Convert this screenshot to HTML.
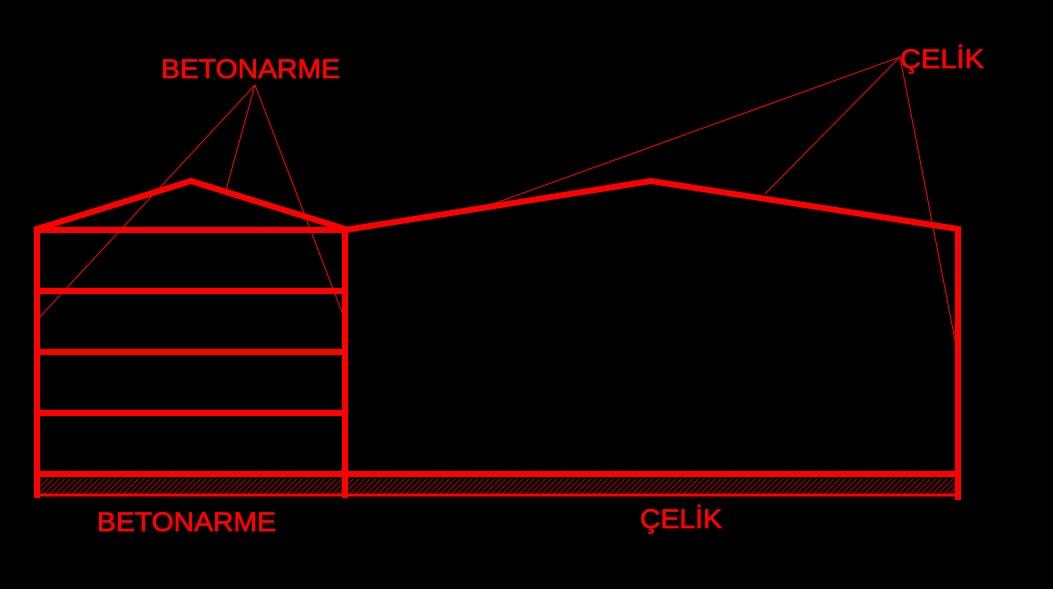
<!DOCTYPE html>
<html><head><style>html,body{margin:0;padding:0;background:#000;}svg{display:block}</style></head>
<body>
<svg width="1053" height="589" viewBox="0 0 1053 589" xmlns="http://www.w3.org/2000/svg">
<defs>
<pattern id="h" width="4" height="4" patternUnits="userSpaceOnUse" patternTransform="rotate(45)">
<rect width="4" height="4" fill="#000"/>
<line x1="0" y1="0" x2="0" y2="4" stroke="#d00" stroke-width="1.6"/>
</pattern>
</defs>
<rect x="37" y="479" width="921" height="15" fill="url(#h)"/>
<g stroke="#ff0000" fill="none" stroke-width="6" stroke-linecap="square">
<line x1="37" y1="230" x2="37" y2="495"/>
<line x1="345" y1="230" x2="345" y2="495"/>
<line x1="958" y1="230" x2="958" y2="497"/>
<line x1="37" y1="230" x2="345" y2="230"/>
<line x1="37" y1="291" x2="345" y2="291"/>
<line x1="37" y1="352" x2="345" y2="352"/>
<line x1="37" y1="413" x2="345" y2="413"/>
<line x1="37" y1="474" x2="958" y2="474"/>
<line x1="37" y1="495" x2="958" y2="495" stroke-width="3"/>
<polyline points="37,229 191,181 345,229" stroke-linejoin="miter"/>
<polyline points="345,230 651,181 958,229"/>
</g>
<g stroke="#ff0000" stroke-width="1">
<line x1="255" y1="85" x2="37" y2="320"/>
<line x1="255" y1="85" x2="226" y2="190"/>
<line x1="255" y1="85" x2="343" y2="315"/>
<line x1="900" y1="57" x2="490" y2="205"/>
<line x1="900" y1="57" x2="765" y2="194"/>
<line x1="900" y1="57" x2="955" y2="340"/>
</g>
<g fill="#ff0000" stroke="#ff0000" stroke-width="0.7" font-family="'Liberation Sans', sans-serif" font-size="27">
<text x="161" y="78" textLength="179" lengthAdjust="spacingAndGlyphs">BETONARME</text>
<text x="900" y="68" textLength="84" lengthAdjust="spacingAndGlyphs">ÇELİK</text>
<text x="97" y="531" textLength="179" lengthAdjust="spacingAndGlyphs">BETONARME</text>
<text x="640" y="528" textLength="82" lengthAdjust="spacingAndGlyphs">ÇELİK</text>
</g>
</svg>
</body></html>
